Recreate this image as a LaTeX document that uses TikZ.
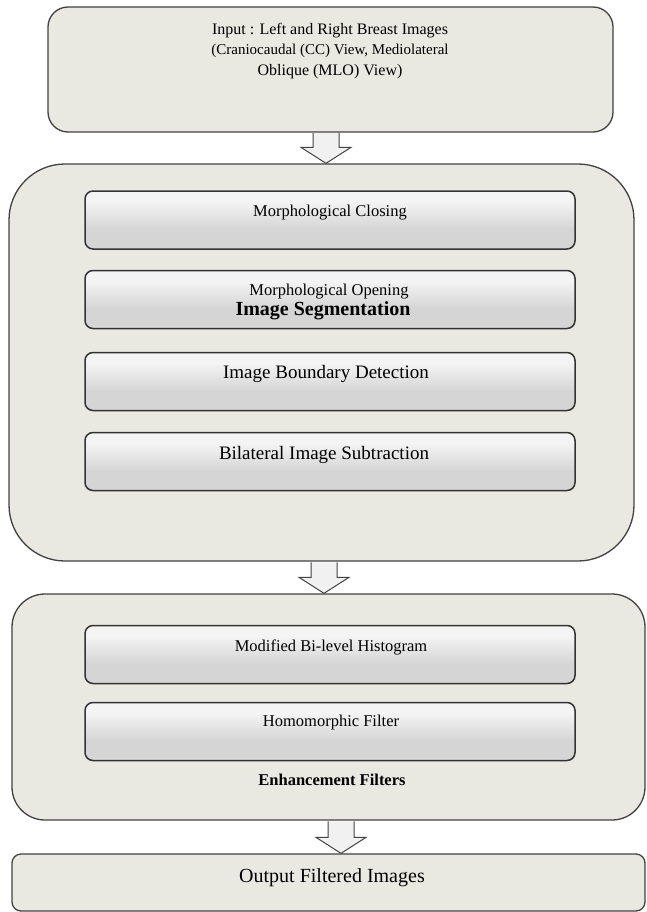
\documentclass[tikz,border=0pt]{standalone}
\usepackage{fontspec}
\setmainfont{Liberation Serif}
\usetikzlibrary{calc}

\definecolor{panel}{RGB}{233,232,225}
\definecolor{edge}{RGB}{66,66,66}
\definecolor{barhi}{RGB}{244,244,245}
\definecolor{barlo}{RGB}{213,213,213}
\definecolor{arrowfill}{RGB}{241,241,241}

\pgfdeclareverticalshading{barshade}{100bp}{color(0bp)=(barlo); color(25bp)=(barlo); color(42bp)=(barlo); color(66bp)=(barhi); color(75bp)=(barhi); color(100bp)=(barhi)}

\tikzset{
  stage/.style={draw=edge, fill=panel, line width=1.3pt},
  bar/.style={draw=black!80, shade, shading=barshade, line width=1.5pt, rounded corners=8pt, minimum width=490pt, minimum height=58pt},
  flow/.style={draw=edge, fill=arrowfill, line width=1pt},
}
\newcommand{\setfs}[1]{\fontsize{#1}{20.5}\selectfont}
% hollow arrow from one box down to the next, #3 = x of its axis
\newcommand{\blockarrow}[3]{%
  \path[flow] let \p1=(#1.south), \p2=(#2.north) in
    (#3pt-13pt,\y1-0.6pt) -- (#3pt-13pt,\y2+16pt) -- (#3pt-25pt,\y2+16pt) -- (#3pt,\y2)
    -- (#3pt+25pt,\y2+16pt) -- (#3pt+13pt,\y2+16pt) -- (#3pt+13pt,\y1-0.6pt);
}

\begin{document}
\begin{tikzpicture}[x=1pt,y=-1pt]
  % Boundary
  \path[use as bounding box] (0,0) rectangle (647,912);
  % Input
  \node[stage, rounded corners=20pt, minimum width=565pt, minimum height=125pt] (input) at (330.5,69.5) {};
  \node[align=center, font=\setfs{16}] (inputtxt) at (330,51)
    {Input : Left and Right Breast Images\\ {\setfs{15}(Craniocaudal (CC) View, Mediolateral}\\ Oblique (MLO) View)};
  % Segmentation stage
  \node[stage, rounded corners=56pt, minimum width=625pt, minimum height=397pt] (seg) at (321.5,362.5) {};
  \node[bar] (closing) at (330,220) {};
  \node[bar] (opening) at (330,299.5) {};
  \node[bar] (boundary) at (330,381.5) {};
  \node[bar] (subtract) at (330,461.5) {};
  \node[font=\setfs{16.5}] (closingtxt) at (330,213) {Morphological Closing};
  \node[font=\setfs{16.5}] (openingtxt) at (329,292) {Morphological Opening};
  \node[font=\setfs{20}\bfseries] (segtxt) at (323,311) {Image Segmentation};
  \node[font=\setfs{19}] (boundarytxt) at (326,374) {Image Boundary Detection};
  \node[font=\setfs{19}] (subtracttxt) at (324,455) {Bilateral Image Subtraction};
  % Enhancement stage
  \node[stage, rounded corners=33pt, minimum width=633pt, minimum height=226pt] (enh) at (328.5,707) {};
  \node[bar] (histo) at (330,654.5) {};
  \node[bar] (homo) at (330,731.5) {};
  \node[font=\setfs{16.5}] (histotxt) at (331,647) {Modified Bi-level Histogram};
  \node[font=\setfs{16.5}] (homotxt) at (331,723) {Homomorphic Filter};
  \node[font=\setfs{16.5}\bfseries] (enhtxt) at (332,780) {Enhancement Filters};
  % Output
  \node[stage, rounded corners=9pt, minimum width=633pt, minimum height=57pt] (output) at (328.5,882.5) {};
  \node[font=\setfs{20}] (outputtxt) at (332,878) {Output Filtered Images};
  % Arrows
  \blockarrow{input}{seg}{326}
  \blockarrow{seg}{enh}{324}
  \blockarrow{enh}{output}{341}
\end{tikzpicture}
\end{document}
